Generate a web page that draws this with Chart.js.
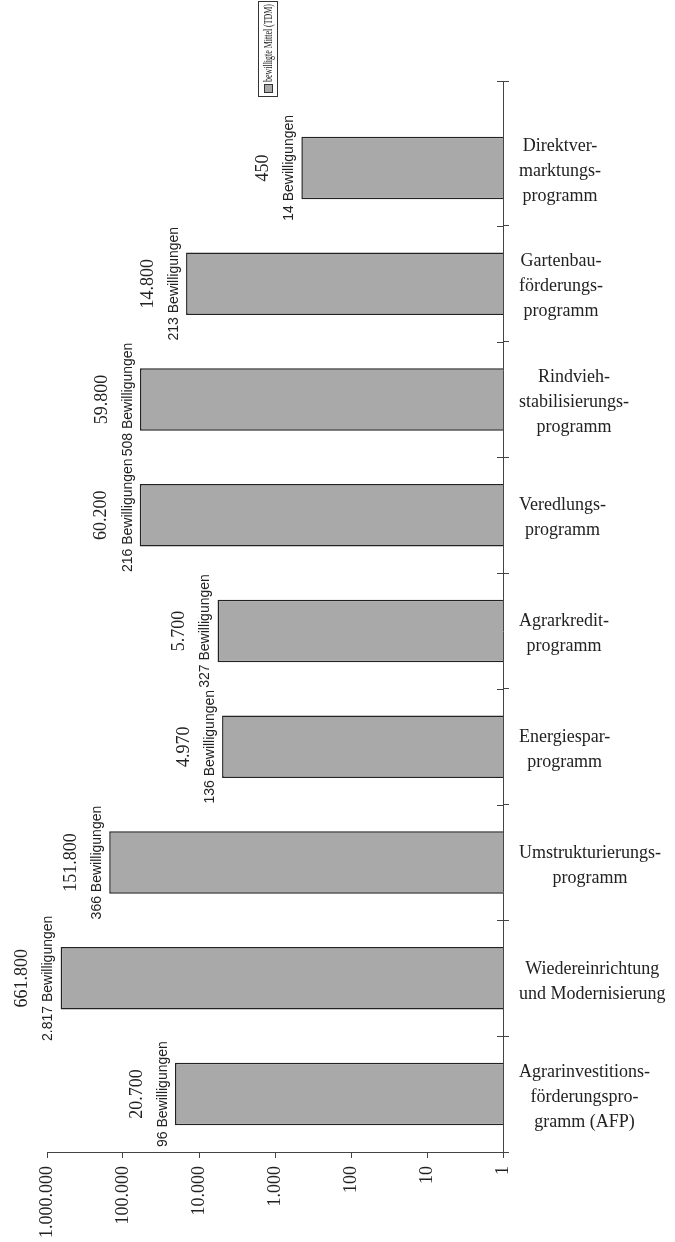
<!DOCTYPE html>
<html><head><meta charset="utf-8">
<script src="https://cdn.jsdelivr.net/npm/chart.js@4/dist/chart.umd.min.js"></script>
<style>html,body{margin:0;padding:0;background:#fff;}#wrap{position:relative;width:675px;height:1242px;}</style>
</head><body><div id="wrap"><canvas id="c" width="675" height="1242"></canvas></div>
<script>
const categories = [
  ['Direktver-','marktungs-','programm'],
  ['Gartenbau-','förderungs-','programm'],
  ['Rindvieh-','stabilisierungs-','programm'],
  ['Veredlungs-','programm'],
  ['Agrarkredit-','programm'],
  ['Energiespar-','programm'],
  ['Umstrukturierungs-','programm'],
  ['Wiedereinrichtung','und Modernisierung'],
  ['Agrarinvestitions-','förderungspro-','gramm (AFP)']
];
const fundsTDM = [450, 14800, 59800, 60200, 5700, 4970, 151800, 661800, 20700];
const approvals = [14, 213, 508, 216, 327, 136, 366, 2817, 96];
const tickValues = [1, 10, 100, 1000, 10000, 100000, 1000000];
const tickLabels = ['1', '10', '100', '1.000', '10.000', '100.000', '1.000.000'];
const seriesLabel = 'bewilligte Mittel (TDM)';

const SERIF = '"Liberation Serif", "Times New Roman", serif';
const SANS = '"Liberation Sans", Arial, sans-serif';
const INK = '#222';

function fmtDE(n) { return String(n).replace(/\B(?=(\d{3})+(?!\d))/g, '.'); }
function drawRot(ctx, text, x, y, font) {
  ctx.save(); ctx.translate(x, y); ctx.rotate(-Math.PI / 2);
  ctx.font = font; ctx.textAlign = 'center'; ctx.textBaseline = 'middle';
  ctx.fillText(text, 0, 0); ctx.restore();
}

const overlay = {
  id: 'overlay',
  afterDatasetsDraw(chart) {
    const ctx = chart.ctx, meta = chart.getDatasetMeta(0), ca = chart.chartArea;
    const ys = chart.scales.y;
    ctx.save(); ctx.fillStyle = INK;
    meta.data.forEach((bar, i) => {
      drawRot(ctx, fmtDE(approvals[i]) + ' Bewilligungen', bar.x - 12, bar.y, '14px ' + SANS);
      drawRot(ctx, fmtDE(fundsTDM[i]), bar.x - 38, bar.y, '18px ' + SERIF);
    });
    ctx.font = '18px ' + SERIF; ctx.textAlign = 'center'; ctx.textBaseline = 'middle';
    const lh = 25, left = ca.right + 16;
    categories.forEach((lines, i) => {
      const w = Math.max(...lines.map(l => ctx.measureText(l).width));
      const cx = left + w / 2, cy = ys.getPixelForValue(i) + 3;
      lines.forEach((l, k) => ctx.fillText(l, cx, cy + (k - (lines.length - 1) / 2) * lh));
    });
    ctx.restore();
  },
  afterDraw(chart) {
    const ctx = chart.ctx, ys = chart.scales.y, ca = chart.chartArea;
    const band = ys.getPixelForValue(1) - ys.getPixelForValue(0);
    ctx.save(); ctx.strokeStyle = '#444'; ctx.lineWidth = 1; ctx.beginPath();
    for (let i = 1; i <= categories.length; i++) {
      const y = Math.round(ys.getPixelForValue(i) - band / 2) + 0.5;
      ctx.moveTo(ca.right - 6, y); ctx.lineTo(ca.right, y);
    }
    const ext = Math.round(ca.top - band * 0.25) + 0.5;
    ctx.moveTo(Math.round(ca.right) + 0.5, ca.top); ctx.lineTo(Math.round(ca.right) + 0.5, ext);
    ctx.moveTo(ca.right - 6, ext); ctx.lineTo(ca.right + 6, ext);
    ctx.stroke();
    // rotated legend (reads bottom to top)
    ctx.translate(268, 97); ctx.rotate(-Math.PI / 2);
    ctx.lineWidth = 1; ctx.strokeStyle = '#333';
    ctx.strokeRect(0.5, -9.5, 95, 19);
    ctx.fillStyle = '#a9a9a9'; ctx.fillRect(4, -4, 9, 9);
    ctx.strokeRect(4.5, -3.5, 8, 8);
    ctx.font = '12px ' + SERIF;
    const tw = ctx.measureText(seriesLabel).width;
    const avail = 78;
    ctx.fillStyle = INK; ctx.textAlign = 'left'; ctx.textBaseline = 'middle';
    ctx.translate(15, 1);
    if (tw > avail) ctx.scale(avail / tw, 1);
    ctx.fillText(seriesLabel, 0, 0);
    ctx.restore();
  }
};

new Chart(document.getElementById('c'), {
  type: 'bar',
  data: {
    labels: categories,
    datasets: [{
      label: seriesLabel, data: fundsTDM,
      backgroundColor: '#a9a9a9', borderColor: '#222', borderWidth: 1.5,
      categoryPercentage: 0.54, barPercentage: 1
    }]
  },
  options: {
    indexAxis: 'y', responsive: false, animation: false, devicePixelRatio: 1,
    layout: { padding: { left: 47, top: 110, right: 0, bottom: 0 } },
    plugins: { legend: { display: false }, tooltip: { enabled: false } },
    scales: {
      x: {
        type: 'logarithmic', reverse: true, min: 1, max: 1000000, position: 'bottom',
        afterBuildTicks: s => { s.ticks = tickValues.map(v => ({ value: v })); },
        afterFit: s => { s.height = 90; },
        grid: { drawOnChartArea: false, tickLength: 6, color: '#444', lineWidth: 1 },
        border: { color: '#444', width: 1 },
        ticks: {
          minRotation: 90, maxRotation: 90, autoSkip: false, padding: 8, color: INK,
          font: { family: SERIF, size: 18 },
          callback: (v, i) => tickLabels[i]
        }
      },
      y: {
        position: 'right',
        afterFit: s => { s.width = 172; },
        grid: { offset: true, drawOnChartArea: false, tickLength: 6,
                color: c => c.index === 0 ? 'rgba(0,0,0,0)' : '#444' },
        border: { color: '#444', width: 1 },
        ticks: { display: false }
      }
    }
  },
  plugins: [overlay]
});
</script></body></html>
